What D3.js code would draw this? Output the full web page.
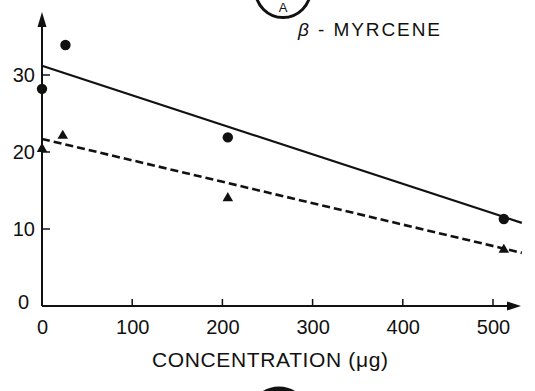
<!DOCTYPE html>
<html><head><meta charset="utf-8">
<script src="https://cdn.jsdelivr.net/npm/d3@7"></script>
<style>body{margin:0;background:#fff}svg{display:block}text{font-family:"Liberation Sans",Arial,sans-serif;fill:#111}</style>
</head><body><svg id="c" width="535" height="391"></svg>
<script>
const xTicks = [0, 100, 200, 300, 400, 500];
const yTicks = [0, 10, 20, 30];
const circleX = [0, 26, 206, 512];
const circleY = [28.2, 33.9, 21.9, 11.3];
const triangleX = [0, 23, 206, 512];
const triangleY = [20.4, 22.1, 14.0, 7.3];
const solidLineX = [0, 532];
const solidLineY = [31.2, 10.8];
const dashedLineX = [0, 532];
const dashedLineY = [21.7, 6.9];
const title = "β - MYRCENE";
const xTitle = "CONCENTRATION (μg)";

const svg = d3.select("#c");
const x = d3.scaleLinear().domain([0, 500]).range([42, 493]);
const y = d3.scaleLinear().domain([0, 30]).range([306, 75]);
const ink = "#111";

// axes lines with arrows
svg.append("line").attr("x1", x(0)).attr("x2", 516).attr("y1", y(0)).attr("y2", y(0)).attr("stroke", ink).attr("stroke-width", 2);
svg.append("line").attr("x1", x(0)).attr("x2", x(0)).attr("y1", y(0)).attr("y2", 18).attr("stroke", ink).attr("stroke-width", 2);
svg.append("path").attr("d", `M${x(0)},12 L${x(0)-4.5},27 L${x(0)+4.5},27Z`).attr("fill", ink);
svg.append("path").attr("d", `M521,${y(0)} L507,${y(0)-4.5} L507,${y(0)+4.5}Z`).attr("fill", ink);

// x axis
const xAxis = d3.axisBottom(x).tickValues(xTicks).tickSize(0).tickPadding(14);
const gx = svg.append("g").attr("transform", `translate(0,${y(0)})`).call(xAxis);
gx.select(".domain").remove();
gx.selectAll("text").attr("font-size", 20).attr("fill", ink).style("font-family", "Liberation Sans, Arial, sans-serif");
svg.append("g").selectAll("line").data(xTicks.filter(d => d > 0)).join("line")
  .attr("x1", d => x(d)).attr("x2", d => x(d)).attr("y1", y(0)).attr("y2", y(0) - 7).attr("stroke", ink).attr("stroke-width", 1.5);

// y axis
const yAxis = d3.axisLeft(y).tickValues(yTicks).tickSize(0).tickPadding(7);
const gy = svg.append("g").attr("transform", `translate(${x(0)},0)`).call(yAxis);
gy.select(".domain").remove();
gy.selectAll("text").attr("font-size", 20).attr("fill", ink).style("font-family", "Liberation Sans, Arial, sans-serif");
gy.selectAll(".tick").filter(d => d === 0).select("text").attr("dx", -6).attr("dy", "0.1em");
svg.append("g").selectAll("line").data(yTicks.filter(d => d > 0)).join("line")
  .attr("x1", x(0)).attr("x2", x(0) + 8).attr("y1", d => y(d)).attr("y2", d => y(d)).attr("stroke", ink).attr("stroke-width", 1.5);

// regression lines
const line = d3.line().x(d => x(d[0])).y(d => y(d[1]));
svg.append("path").attr("d", line(d3.zip(solidLineX, solidLineY))).attr("stroke", ink).attr("stroke-width", 2.2).attr("fill", "none");
svg.append("path").attr("d", line(d3.zip(dashedLineX, dashedLineY))).attr("stroke", ink).attr("stroke-width", 2.6).attr("fill", "none").attr("stroke-dasharray", "8,4");

// markers
svg.append("g").selectAll("circle").data(d3.zip(circleX, circleY)).join("circle")
  .attr("cx", d => x(d[0])).attr("cy", d => y(d[1])).attr("r", 5.2).attr("fill", ink);
const tri = d3.symbol().type(d3.symbolTriangle).size(48);
svg.append("g").selectAll("path").data(d3.zip(triangleX, triangleY)).join("path")
  .attr("d", tri).attr("transform", d => `translate(${x(d[0])},${y(d[1])})`).attr("fill", ink);

// titles
svg.append("circle").attr("cx", 283).attr("cy", -10).attr("r", 27.5).attr("fill", "none").attr("stroke", ink).attr("stroke-width", 3);
svg.append("text").attr("x", 283).attr("y", 12).attr("text-anchor", "middle").attr("font-size", 13).text("A");
svg.append("text").attr("x", 298).attr("y", 36).attr("font-size", 19).attr("textLength", 142)
  .html('<tspan font-style="italic">β</tspan> - MYRCENE');
svg.append("text").attr("x", 270).attr("y", 367).attr("text-anchor", "middle").attr("font-size", 21).attr("textLength", 236).text(xTitle);
svg.append("circle").attr("cx", 279).attr("cy", 417).attr("r", 28).attr("fill", "none").attr("stroke", ink).attr("stroke-width", 5);
</script></body></html>
